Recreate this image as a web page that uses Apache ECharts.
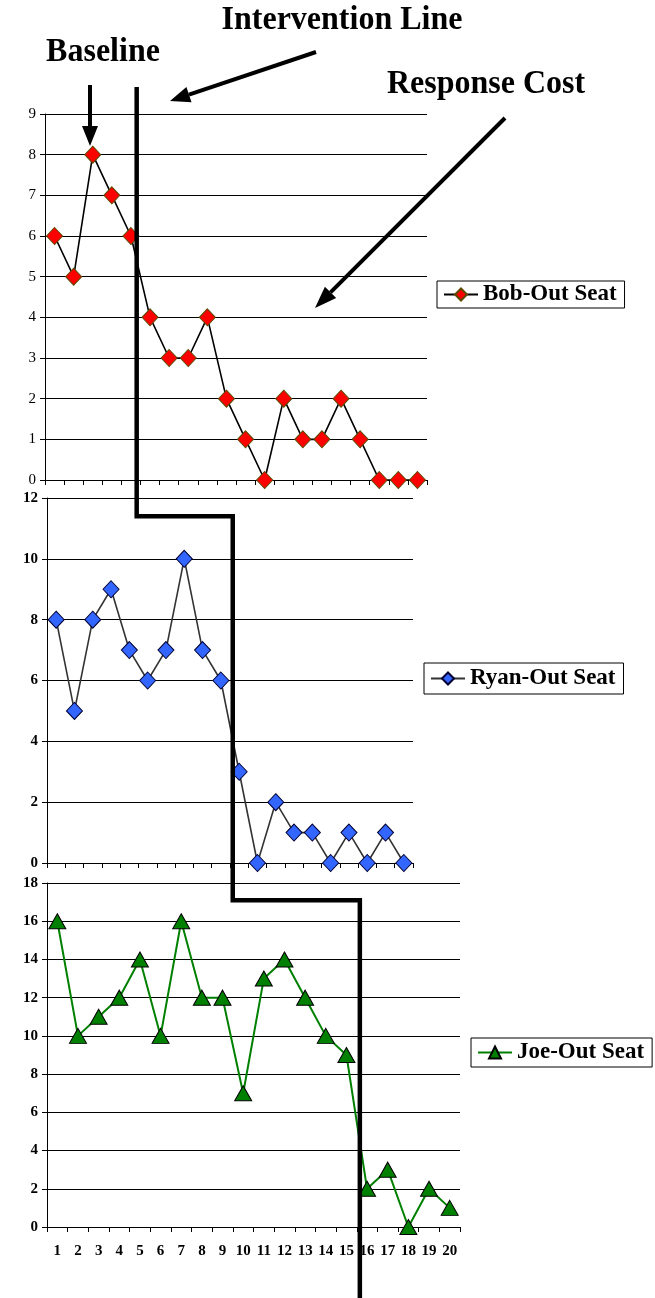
<!DOCTYPE html>
<html>
<head>
<meta charset="utf-8">
<script src="https://cdn.jsdelivr.net/npm/echarts@6/dist/echarts.min.js"></script>
<style>
  html, body { margin: 0; padding: 0; background: #fff; }
  #chart { width: 655px; height: 1298px; }
</style>
</head>
<body>
<div id="chart"></div>
<script>
// Sessions 1-20, one point per session for each student
const sessions = ['1','2','3','4','5','6','7','8','9','10','11','12','13','14','15','16','17','18','19','20'];
const bobOutSeat  = [6, 5, 8, 7, 6, 4, 3, 3, 4, 2, 1, 0, 2, 1, 1, 2, 1, 0, 0, 0];
const ryanOutSeat = [8, 5, 8, 9, 7, 6, 7, 10, 7, 6, 3, 0, 2, 1, 1, 0, 1, 0, 1, 0];
const joeOutSeat  = [16, 10, 11, 12, 14, 10, 16, 12, 12, 7, 13, 14, 12, 10, 9, 2, 3, 0, 2, 1];

// Y scales per panel: [max, interval]
const yScaleBob  = [9, 1];
const yScaleRyan = [12, 2];
const yScaleJoe  = [18, 2];

// Phase-change position (in session units) for each student, and the
// level in the next panel where the staircase steps across
const phaseChange = [5.3, 10.65, 15.65];
const stepLevel   = [11.4, 17.1];

const serif = '"Liberation Serif", "Times New Roman", serif';

const chart = echarts.init(document.getElementById('chart'), null, { renderer: 'canvas' });

function xAxisFor(gridIndex, showLabels) {
  return {
    type: 'category', gridIndex, data: sessions, boundaryGap: true,
    axisLine: { lineStyle: { color: '#000', width: 1 } },
    axisTick: { show: true, inside: false, length: 5, interval: 0, lineStyle: { color: '#000' } },
    axisLabel: {
      show: showLabels, color: '#000', fontFamily: serif, fontWeight: 'bold',
      fontSize: 15, margin: 17, interval: 0
    },
    splitLine: { show: false }
  };
}

function yAxisFor(gridIndex, scale, bold) {
  return {
    type: 'value', gridIndex, min: 0, max: scale[0], interval: scale[1],
    axisLine: { show: true, lineStyle: { color: '#000', width: 1 } },
    axisTick: { show: true, length: 5, lineStyle: { color: '#000' } },
    axisLabel: {
      color: '#000', fontFamily: serif, fontWeight: bold ? 'bold' : 'normal',
      fontSize: 15, margin: 9
    },
    splitLine: { show: true, lineStyle: { color: '#000', width: 1 } }
  };
}

function legendFor(name, left, top, padding) {
  return {
    data: [name], left, top, orient: 'horizontal',
    borderColor: '#000', borderWidth: 1, backgroundColor: '#fff',
    padding, itemWidth: 34, itemHeight: 15, itemGap: 4,
    textStyle: { color: '#000', fontFamily: serif, fontWeight: 'bold', fontSize: 23 },
    selectedMode: false
  };
}

const option = {
  animation: false,
  backgroundColor: '#fff',
  grid: [
    { left: 45, top: 114, width: 382, height: 366 },
    { left: 47, top: 498, width: 366, height: 365 },
    { left: 47, top: 883, width: 413, height: 344 }
  ],
  xAxis: [xAxisFor(0, false), xAxisFor(1, false), xAxisFor(2, true)],
  yAxis: [yAxisFor(0, yScaleBob, false), yAxisFor(1, yScaleRyan, true), yAxisFor(2, yScaleJoe, true)],
  legend: [
    legendFor('Bob-Out Seat', 437, 281, [2, 8, 2, 6]),
    legendFor('Ryan-Out Seat', 424, 663, [4, 8, 4, 6]),
    legendFor('Joe-Out Seat', 471, 1038, [3, 8, 3, 6])
  ],
  series: [
    {
      name: 'Bob-Out Seat', type: 'line', xAxisIndex: 0, yAxisIndex: 0,
      data: bobOutSeat, symbol: 'diamond', symbolSize: [16, 17], showAllSymbol: true,
      lineStyle: { color: '#000', width: 1.6 },
      itemStyle: { color: '#ff0000', borderColor: '#5c4a00', borderWidth: 1 },
      z: 5
    },
    {
      name: 'Ryan-Out Seat', type: 'line', xAxisIndex: 1, yAxisIndex: 1,
      data: ryanOutSeat, symbol: 'diamond', symbolSize: [16, 17], showAllSymbol: true,
      lineStyle: { color: '#333', width: 1.6 },
      itemStyle: { color: '#3366ff', borderColor: '#000033', borderWidth: 1 },
      z: 5
    },
    {
      name: 'Joe-Out Seat', type: 'line', xAxisIndex: 2, yAxisIndex: 2,
      data: joeOutSeat, symbol: 'triangle', symbolSize: [17, 15], showAllSymbol: true,
      lineStyle: { color: '#008000', width: 2 },
      itemStyle: { color: '#008000', borderColor: '#000', borderWidth: 1 },
      z: 5
    }
  ]
};

chart.setOption(option);

// Pixel x for a (1-based, possibly fractional) session position in a panel
function sessionX(panel, pos) {
  const a = chart.convertToPixel({ xAxisIndex: panel }, 0);
  const b = chart.convertToPixel({ xAxisIndex: panel }, 1);
  return a + (pos - 1) * (b - a);
}
function levelY(panel, v) {
  return chart.convertToPixel({ yAxisIndex: panel }, v);
}

// Arrow: straight shaft with a filled triangular head at the tip
function arrow(x1, y1, x2, y2, width, headLen, headHalf) {
  const dx = x2 - x1, dy = y2 - y1;
  const len = Math.sqrt(dx * dx + dy * dy);
  const ux = dx / len, uy = dy / len;
  const bx = x2 - ux * headLen, by = y2 - uy * headLen;
  const nx = -uy, ny = ux;
  return [
    { type: 'line', shape: { x1, y1, x2: bx, y2: by }, style: { stroke: '#000', lineWidth: width }, z: 20 },
    {
      type: 'polygon',
      shape: { points: [[x2, y2], [bx + nx * headHalf, by + ny * headHalf], [bx - nx * headHalf, by - ny * headHalf]] },
      style: { fill: '#000' }, z: 20
    }
  ];
}

const x1 = sessionX(0, phaseChange[0]);
const x2 = sessionX(1, phaseChange[1]);
const x3 = sessionX(2, phaseChange[2]);
const yStep1 = levelY(1, stepLevel[0]);
const yStep2 = levelY(2, stepLevel[1]);

const titleStyle = { fill: '#000', fontFamily: serif, fontWeight: 'bold', fontSize: 32 };

chart.setOption({
  graphic: [
    {
      type: 'polyline', z: 15,
      shape: { points: [[x1, 87], [x1, yStep1], [x2, yStep1], [x2, yStep2], [x3, yStep2], [x3, 1298]] },
      style: { stroke: '#000', lineWidth: 4.5, fill: null, lineJoin: 'miter' }
    },
    ...arrow(90, 85, 90, 146, 4, 20, 8),
    ...arrow(316, 52, 170, 101, 4, 20, 8),
    ...arrow(505, 118, 315, 308, 4, 22, 8),
    { type: 'text', x: 342, y: 20, z: 20, scaleY: 1.08, style: Object.assign({ text: 'Intervention Line', align: 'center', verticalAlign: 'middle' }, titleStyle) },
    { type: 'text', x: 103, y: 52, z: 20, scaleY: 1.08, style: Object.assign({ text: 'Baseline', align: 'center', verticalAlign: 'middle' }, titleStyle) },
    { type: 'text', x: 486, y: 84, z: 20, scaleY: 1.08, style: Object.assign({ text: 'Response Cost', align: 'center', verticalAlign: 'middle' }, titleStyle) }
  ]
});
</script>
</body>
</html>
